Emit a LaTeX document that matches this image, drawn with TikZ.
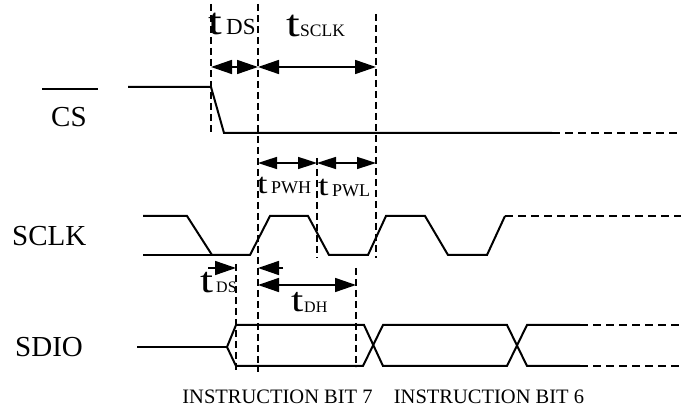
\documentclass[tikz,border=0pt]{standalone}
\usepackage{fontspec}
\usepackage{graphicx}
\setmainfont{Liberation Serif}
\usetikzlibrary{arrows.meta}
\begin{document}
\begin{tikzpicture}[x=1pt,y=-1pt,
  wave/.style={line width=2pt, line join=miter},
  ext/.style={line width=2pt, dash pattern=on 8pt off 5pt},
  guide/.style={line width=2pt, dash pattern=on 7pt off 4pt},
  dim/.style={line width=1.6pt, {Triangle[length=21pt,width=14pt]}-{Triangle[length=21pt,width=14pt]}},
  dimsm/.style={line width=1.6pt, {Triangle[length=19pt,width=12pt]}-{Triangle[length=19pt,width=12pt]}},
  half/.style={line width=1.6pt, -{Triangle[length=21pt,width=14pt]}},
  lbl/.style={inner sep=0pt, anchor=base west},
  fs/.style={font=\fontsize{#1}{#1}\selectfont},
  sig/.style={lbl, fs=29},
  bit/.style={inner sep=0pt, anchor=base, fs=20.5}
]
\useasboundingbox (0,0) rectangle (681,411);

% ---- guide lines (dashed verticals)
\coordinate (gAt) at (211,4);   \coordinate (gAb) at (211,133);
\coordinate (gBt) at (258,4);   \coordinate (gBb) at (258,372);
\coordinate (gCt) at (376,14);  \coordinate (gCb) at (376,258);
\coordinate (gDt) at (317,158); \coordinate (gDb) at (317,258);
\coordinate (gEt) at (236,264); \coordinate (gEb) at (236,372);
\coordinate (gFt) at (356,268); \coordinate (gFb) at (356,367);
\draw[guide] (gAt) -- (gAb);
\draw[guide] (gBt) -- (gBb);
\draw[guide] (gCt) -- (gCb);
\draw[guide] (gDt) -- (gDb);
\draw[guide] (gEt) -- (gEb);
\draw[guide] (gFt) -- (gFb);

% ---- CS
\draw[wave] (128,87) -- (211,87) -- (224,133) -- (552,133);
\draw[ext] (552,133) -- (681,133);

% ---- SCLK
\draw[wave] (143,216) -- (187,216) -- (212,255) -- (250,255) -- (270,216) -- (308,216)
  -- (329,255) -- (368,255) -- (386,216) -- (425,216) -- (448,255) -- (487,255) -- (505,216);
\draw[wave] (143,255) -- (212,255);
\draw[ext] (505,216) -- (681,216);

% ---- SDIO
\draw[wave] (137,347) -- (227,347);
\draw[wave] (227,347) -- (236,325) -- (364,325) -- (383,366) -- (507,366) -- (527,325) -- (580,325);
\draw[wave] (227,347) -- (236,366) -- (363,366) -- (383,325) -- (507,325) -- (527,366) -- (580,366);
\draw[ext] (580,325) -- (681,325);
\draw[ext] (580,366) -- (681,366);

% ---- dimension arrows
\draw[dim] (211,67) -- (258,67);
\draw[dim] (258,67) -- (376,67);
\draw[dimsm] (258,163) -- (317,163);
\draw[dimsm] (317,163) -- (376,163);
\draw[half] (208,268) -- (236,268);
\draw[half] (283,268) -- (258,268);
\draw[dim] (258,285) -- (356,285);

% ---- signal labels
\node[sig] (cs) at (51,127) {CS};
\coordinate (ovl) at (42,89); \coordinate (ovr) at (98,89);
\draw[line width=2pt] (ovl) -- (ovr);
\node[sig] (sclk) at (12,246) {SCLK};
\node[sig] (sdio) at (15,357) {SDIO};

% ---- timing labels
\node[lbl, fs=38] (tA) at (208,35) {\scalebox{1.3}[1]{t}};
\node[lbl, fs=23] (sA) at (226,35) {DS};
\node[lbl, fs=38] (tB) at (286,37) {\scalebox{1.3}[1]{t}};
\node[lbl, fs=17.5] (sB) at (300,37) {SCLK};
\node[lbl, fs=29] (tC) at (257,194) {\scalebox{1.3}[1]{t}};
\node[lbl, fs=18] (sC) at (271,194) {PWH};
\node[lbl, fs=29] (tD) at (318,196) {\scalebox{1.3}[1]{t}};
\node[lbl, fs=18] (sD) at (332,197) {PWL};
\node[lbl, fs=36] (tE) at (200,293) {\scalebox{1.3}[1]{t}};
\node[lbl, fs=16] (sE) at (216,293) {DS};
\node[lbl, fs=34] (tF) at (291,312) {\scalebox{1.3}[1]{t}};
\node[lbl, fs=16] (sF) at (304,313) {DH};

% ---- bit labels
\node[bit] (b7) at (277.5,404) {INSTRUCTION BIT 7};
\node[bit] (b6) at (489,404) {INSTRUCTION BIT 6};
\end{tikzpicture}
\end{document}
